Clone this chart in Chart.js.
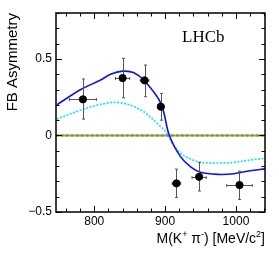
<!DOCTYPE html>
<html>
<head>
<meta charset="utf-8">
<script src="https://cdn.jsdelivr.net/npm/chart.js@4.4.1/dist/chart.umd.min.js"></script>
<style>
  html, body { margin: 0; padding: 0; background: #fff; }
  #wrap { width: 279px; height: 266px; position: relative; }
</style>
</head>
<body>
<div id="wrap"><canvas id="fbChart"></canvas></div>
<script>
// ---- data ----
const massBins     = [784, 840, 871, 894, 916, 948, 1005];
const massErr      = [19, 10, 6, 4, 6, 10, 18];
const asymmetry    = [0.236, 0.375, 0.36, 0.188, -0.313, -0.27, -0.324];
const asymErrUp    = [0.133, 0.129, 0.10, 0.087, 0.093, 0.094, 0.091];
const asymErrDown  = [0.129, 0.129, 0.107, 0.088, 0.092, 0.093, 0.094];

const fitMass      = [747, 781, 809, 823, 840, 856, 871, 894, 906, 922, 936, 950, 974, 997, 1020, 1041];
const fitTotal     = [0.20, 0.30, 0.362, 0.40, 0.42, 0.41, 0.356, 0.21, 0.0, -0.14, -0.205, -0.24, -0.254, -0.25, -0.23, -0.218];
const altMass      = [747, 781, 809, 835, 866, 894, 903, 910, 922, 936, 950, 974, 997, 1020, 1041];
const fitAlt       = [0.107, 0.166, 0.203, 0.215, 0.166, 0.057, 0.013, -0.05, -0.117, -0.154, -0.176, -0.18, -0.176, -0.16, -0.15];

const xRange = [746, 1041];
const yRange = [-0.5, 0.8];
const xTickLabels = [800, 900, 1000];
const yTickLabels = [-0.5, 0, 0.5];
const xMinorStep = 20;
const yMinorStep = 0.1;

const toXY = (xs, ys) => xs.map((x, i) => ({ x, y: ys[i] }));

/* ---- frame, inward ticks, labels, error bars ---- */
const rootStyle = {
  id: 'rootStyle',
  beforeDatasetDraw(chart, args) {
    if (args.index !== 0) return;
    const { ctx, scales: { x, y } } = chart;
    ctx.save();
    ctx.strokeStyle = '#555';
    ctx.lineWidth = 1;
    massBins.forEach((m, i) => {
      const px = Math.round(x.getPixelForValue(m)) + 0.5;
      const py = Math.round(y.getPixelForValue(asymmetry[i])) + 0.5;
      const top = y.getPixelForValue(asymmetry[i] + asymErrUp[i]);
      const bot = y.getPixelForValue(asymmetry[i] - asymErrDown[i]);
      const l = x.getPixelForValue(m - massErr[i]);
      const r = x.getPixelForValue(m + massErr[i]);
      ctx.beginPath();
      ctx.moveTo(px, top); ctx.lineTo(px, bot);
      ctx.moveTo(px - 1.5, top); ctx.lineTo(px + 1.5, top);
      ctx.moveTo(px - 1.5, bot); ctx.lineTo(px + 1.5, bot);
      ctx.moveTo(l, py); ctx.lineTo(r, py);
      ctx.moveTo(l, py - 1.5); ctx.lineTo(l, py + 1.5);
      ctx.moveTo(r, py - 1.5); ctx.lineTo(r, py + 1.5);
      ctx.stroke();
    });
    ctx.restore();
  },
  afterDraw(chart) {
    const { ctx, chartArea: a, scales: { x, y } } = chart;
    ctx.save();
    ctx.strokeStyle = '#000';
    ctx.lineWidth = 1.5;
    ctx.strokeRect(a.left, a.top, a.right - a.left, a.bottom - a.top);

    ctx.lineWidth = 1;
    ctx.beginPath();
    for (let v = 760; v <= xRange[1]; v += xMinorStep) {
      const px = Math.round(x.getPixelForValue(v)) + 0.5;
      const len = v % 100 === 0 ? 6 : 3.5;
      ctx.moveTo(px, a.bottom); ctx.lineTo(px, a.bottom - len);
      ctx.moveTo(px, a.top); ctx.lineTo(px, a.top + len);
    }
    for (let k = -5; k <= 8; k++) {
      const v = k * yMinorStep;
      const py = Math.round(y.getPixelForValue(v)) + 0.5;
      const len = k % 5 === 0 ? 6 : 3.5;
      ctx.moveTo(a.left, py); ctx.lineTo(a.left + len, py);
      ctx.moveTo(a.right, py); ctx.lineTo(a.right - len, py);
    }
    ctx.stroke();

    ctx.fillStyle = '#000';
    ctx.font = '12px "Liberation Sans", Arial, sans-serif';
    ctx.textAlign = 'center';
    ctx.textBaseline = 'middle';
    xTickLabels.forEach(v => ctx.fillText(String(v), x.getPixelForValue(v), a.bottom + 10));
    ctx.textAlign = 'right';
    yTickLabels.forEach(v => {
      const txt = v < 0 ? '\u2212' + String(-v) : String(v);
      ctx.fillText(txt, a.left - 4, y.getPixelForValue(v));
    });

    // y title, ROOT style: aligned to top of the axis
    ctx.save();
    ctx.translate(13, a.top);
    ctx.rotate(-Math.PI / 2);
    ctx.font = '15px "Liberation Sans", Arial, sans-serif';
    ctx.textAlign = 'right';
    ctx.textBaseline = 'middle';
    ctx.fillText('FB Asymmetry', 0, 0);
    ctx.restore();

    // x title with superscripts, right aligned
    const parts = [
      ['M(K', false], ['+', true], [' \u03c0', false], ['-', true],
      [') [MeV/c', false], ['2', true], [']', false]
    ];
    const big = '14px "Liberation Sans", Arial, sans-serif';
    const small = '9px "Liberation Sans", Arial, sans-serif';
    let w = 0;
    parts.forEach(([t, sup]) => { ctx.font = sup ? small : big; w += ctx.measureText(t).width; });
    let cx = a.right - w;
    const base = a.bottom + 31;
    ctx.textAlign = 'left';
    ctx.textBaseline = 'alphabetic';
    parts.forEach(([t, sup]) => {
      ctx.font = sup ? small : big;
      ctx.fillText(t, cx, sup ? base - 6 : base);
      cx += ctx.measureText(t).width;
    });

    ctx.font = '17px "Liberation Serif", "Times New Roman", serif';
    ctx.textAlign = 'left';
    ctx.textBaseline = 'middle';
    ctx.fillText('LHCb', 182, 38);
    ctx.restore();
  }
};

// Chart.js paints dataset 0 last, so the markers come first here
new Chart(document.getElementById('fbChart'), {
  type: 'scatter',
  data: {
    datasets: [
      {
        data: toXY(massBins, asymmetry),
        backgroundColor: '#000',
        borderColor: '#000',
        pointRadius: 3.6,
        pointHoverRadius: 3.6
      },
      {
        type: 'line',
        data: toXY(fitMass, fitTotal),
        borderColor: '#1010f0',
        borderWidth: 1.6,
        tension: 0.35,
        pointRadius: 0
      },
      {
        type: 'line',
        data: toXY(altMass, fitAlt),
        borderColor: '#18e4f4',
        borderWidth: 1.7,
        borderDash: [2, 1.5],
        tension: 0.35,
        pointRadius: 0
      },
      {
        type: 'line',
        data: toXY(xRange, [0, 0]),
        borderColor: '#ff4a3a',
        borderWidth: 2,
        borderDash: [2.5, 2.5],
        pointRadius: 0
      },
      {
        type: 'line',
        data: toXY(xRange, [0, 0]),
        borderColor: '#3cd83c',
        borderWidth: 2,
        pointRadius: 0
      }
    ]
  },
  options: {
    responsive: true,
    maintainAspectRatio: false,
    animation: false,
    events: [],
    layout: { padding: { left: 56, right: 14, top: 13, bottom: 54 } },
    plugins: { legend: { display: false }, tooltip: { enabled: false } },
    scales: {
      x: { type: 'linear', min: xRange[0], max: xRange[1], display: false },
      y: { type: 'linear', min: yRange[0], max: yRange[1], display: false }
    }
  },
  plugins: [rootStyle]
});
</script>
</body>
</html>
